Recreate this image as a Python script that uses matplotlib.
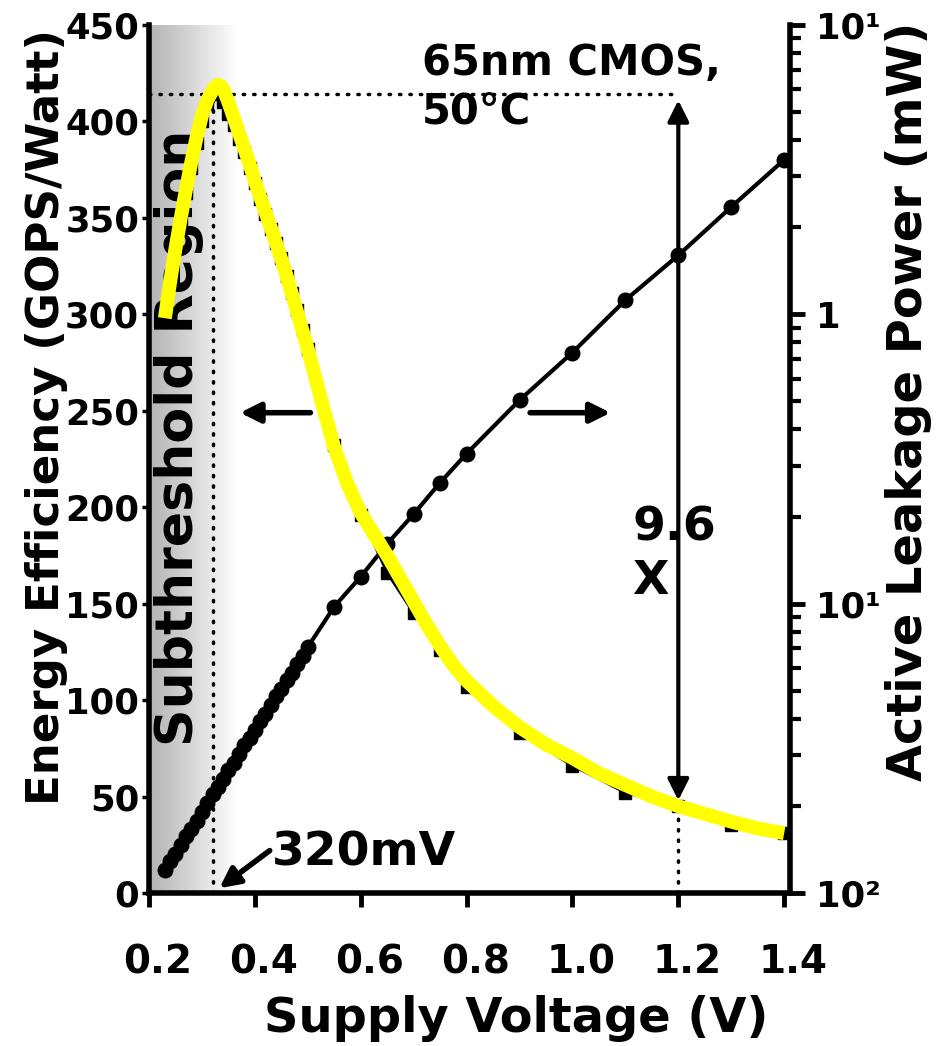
import numpy as np
import matplotlib
matplotlib.use("Agg")
import matplotlib.pyplot as plt
from matplotlib.transforms import ScaledTranslation

plt.rcParams['font.family'] = ['DejaVu Sans']
plt.rcParams['font.weight'] = 'bold'
plt.rcParams['axes.labelweight'] = 'bold'

# supply voltage of each measured point (V)
volts = [0.23, 0.24, 0.25, 0.26, 0.27, 0.28, 0.29, 0.30, 0.31, 0.32,
         0.33, 0.34, 0.35, 0.36, 0.37, 0.38, 0.39, 0.40, 0.41, 0.42,
         0.43, 0.44, 0.45, 0.46, 0.47, 0.48, 0.49, 0.50,
         0.55, 0.60, 0.65, 0.70, 0.75, 0.80, 0.90, 1.00, 1.10, 1.20, 1.30, 1.40]

# measured energy efficiency (GOPS/Watt), black squares
eff = [298, 318, 334, 349, 363, 376, 389, 400, 409, 415,
       414, 410, 404, 398, 391, 384, 376, 368, 360, 352,
       344, 337, 329, 320, 311, 302, 292, 282,
       232, 196, 166, 145, 126, 107, 83, 66, 52, 45, 35, 31]

# active leakage power (mW), black circles
leak_mw = [0.0120, 0.0129, 0.0136, 0.0146, 0.0157, 0.0166, 0.0178, 0.0191, 0.0204, 0.0219,
           0.0232, 0.0248, 0.0266, 0.0282, 0.0302, 0.0324, 0.0343, 0.0367, 0.0394, 0.0417,
           0.0447, 0.0479, 0.0507, 0.0543, 0.0575, 0.0617, 0.0661, 0.0708,
           0.0977, 0.124, 0.161, 0.204, 0.262, 0.330, 0.505, 0.738, 1.12, 1.60, 2.35, 3.42]

# smoothed efficiency trend (yellow)
fit_volts = [0.23, 0.24, 0.25, 0.26, 0.27, 0.28, 0.29, 0.30, 0.31, 0.32,
             0.325, 0.33, 0.335, 0.34, 0.35, 0.36, 0.37, 0.38, 0.39, 0.40, 0.42, 0.44,
             0.46, 0.48, 0.50, 0.525, 0.55, 0.575, 0.60, 0.625, 0.65, 0.675,
             0.70, 0.725, 0.75, 0.775, 0.80, 0.85, 0.90, 0.95, 1.00, 1.05,
             1.10, 1.15, 1.20, 1.25, 1.30, 1.35, 1.40]
fit_eff = [298, 317, 334, 350, 365, 379, 392, 403, 411, 416,
           418, 419, 418.5, 417, 410, 402, 394, 386, 378, 369, 353, 337,
           320, 301, 282, 256, 231, 212, 197, 186, 175, 163,
           151, 139, 128, 118, 110, 97, 86, 77, 70, 62,
           56, 50, 45, 41, 37, 33.5, 31]

yticks_left = [0, 50, 100, 150, 200, 250, 300, 350, 400, 450]
xticks = [0.2, 0.4, 0.6, 0.8, 1.0, 1.2, 1.4]
xticklabels = ['0.2', '0.4', '0.6', '0.8', '1.0', '1.2', '1.4']
yticks_right = [0.01, 0.1, 1, 10]
yticklabels_right = ['10²', '10¹', '1', '10¹']

fig = plt.figure(figsize=(9.38, 10.46), dpi=100)
ax = fig.add_axes([149/938, 153/1046, 641/938, 868/1046])
ax2 = ax.twinx()

# subthreshold shading
grad = np.linspace(0.70, 1.0, 256).reshape(1, -1)
ax.imshow(grad, cmap='gray', vmin=0, vmax=1, extent=[0.2, 0.37, 0, 450],
          aspect='auto', zorder=0, interpolation='bilinear')

ax.plot(volts, eff, '-s', color='k', lw=2, ms=9, zorder=2)
ax2.plot(volts, leak_mw, '-o', color='k', lw=3, ms=10.5, zorder=2)
# yellow trend on top of everything, in left-axis units
ax2.plot(fit_volts, fit_eff, color='#ffff00', lw=10, solid_capstyle='butt',
         solid_joinstyle='round', transform=ax.transData, zorder=5)

ax.set_xlim(0.2, 1.411)
ax.set_ylim(0, 450)
ax2.set_yscale('log')
ax2.set_ylim(0.01, 10)

# reference lines
i_pk = int(np.argmax(eff))
pk_v, pk_e = volts[i_pk], eff[i_pk]
e12 = eff[volts.index(1.2)]
dot = dict(color='k', lw=2.5, ls=(0, (0.4, 2.6)), dash_capstyle='round', zorder=1)
ax.plot([0.2, 1.2], [pk_e - 1, pk_e - 1], **dot)
ax.plot([pk_v, pk_v], [0, pk_e - 1], **dot)
ax.plot([1.2, 1.2], [0, e12], **dot)

ax.annotate('', xy=(1.2, pk_e - 4), xytext=(1.2, e12 + 3),
            arrowprops=dict(arrowstyle='<|-|>', lw=3, color='k', mutation_scale=32,
                            shrinkA=0, shrinkB=0))
ax.annotate('', xy=(0.372, 249), xytext=(0.505, 249),
            arrowprops=dict(arrowstyle='-|>', lw=4, color='k', mutation_scale=30,
                            shrinkA=0, shrinkB=0))
ax.annotate('', xy=(1.072, 249), xytext=(0.92, 249),
            arrowprops=dict(arrowstyle='-|>', lw=4, color='k', mutation_scale=30,
                            shrinkA=0, shrinkB=0))
ax.annotate('', xy=(0.333, 2.5), xytext=(0.428, 22),
            arrowprops=dict(arrowstyle='-|>', lw=4, color='k', mutation_scale=30,
                            shrinkA=0, shrinkB=0))

ax.text(0.257, 236, 'Subthreshold Region', rotation=90, ha='center', va='center',
        fontsize=37.5, zorder=3)
ax.text(0.716, 441, '65nm CMOS,\n50°C', ha='left', va='top', fontsize=30, zorder=3)
ax.text(1.113, 201, '9.6\nX', ha='left', va='top', fontsize=34, zorder=3,
        linespacing=1.25)
ax.text(0.432, 14, '320mV', ha='left', va='baseline', fontsize=34, zorder=3)

# axes styling
for s in ['top', 'right']:
    ax.spines[s].set_visible(False)
for s in ['top', 'left', 'bottom']:
    ax2.spines[s].set_visible(False)
ax.spines['left'].set_linewidth(4)
ax.spines['bottom'].set_linewidth(4)
ax2.spines['right'].set_linewidth(4)

ax.set_xticks(xticks)
ax.set_xticklabels(xticklabels)
ax.set_yticks(yticks_left)
ax.tick_params(axis='x', direction='out', length=10, width=3.5, labelsize=28, pad=26)
ax.tick_params(axis='y', direction='out', length=5, width=2.5, labelsize=25.5, pad=2)
shift = ScaledTranslation(9/100, 0, fig.dpi_scale_trans)
for lab in ax.get_xticklabels():
    lab.set_transform(lab.get_transform() + shift)
ax2.set_yticks(yticks_right)
ax2.set_yticklabels(yticklabels_right)
ax2.tick_params(axis='y', which='major', direction='out', length=11, width=3.5,
                labelsize=25.5, pad=8)
ax2.tick_params(axis='y', which='minor', direction='out', length=8, width=3)

ax.set_xlabel('Supply Voltage (V)', fontsize=34.5)
ax.xaxis.set_label_coords(0.5725, -0.117)
ax.set_ylabel('Energy Efficiency (GOPS/Watt)', fontsize=32.5)
ax.yaxis.set_label_coords(-0.126, 0.548)
ax2.set_ylabel('Active Leakage Power (mW)', fontsize=34.5)
ax2.yaxis.set_label_coords(1.148, 0.566)

fig.savefig('out.png', dpi=100)
